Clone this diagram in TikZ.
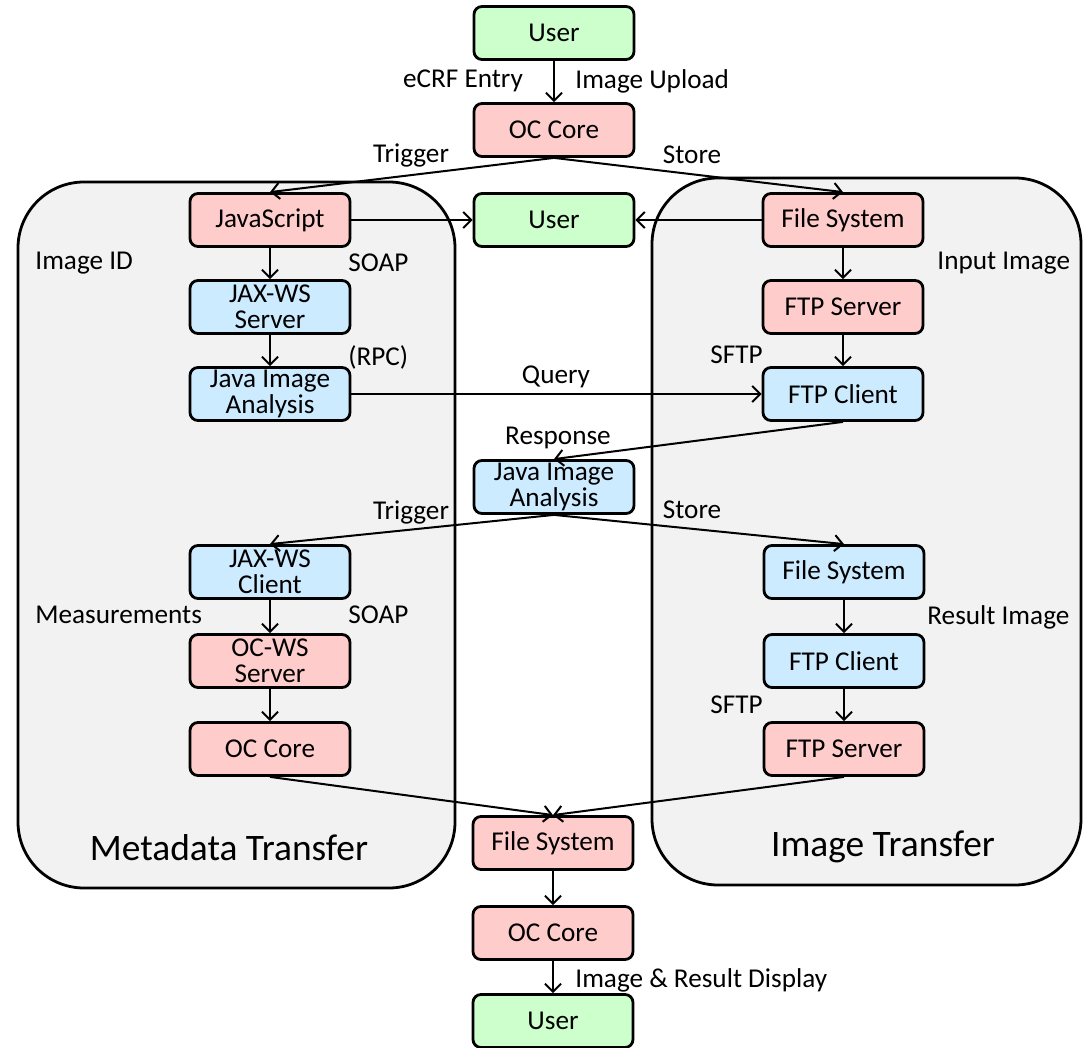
\documentclass[tikz,border=0pt]{standalone}
\usepackage{fontspec}
\setmainfont{Carlito}
\usepackage{xcolor}
\usetikzlibrary{arrows.meta}
\definecolor{usergreen}{HTML}{CCFFCC}
\definecolor{corepink}{HTML}{FFCCCC}
\definecolor{javablue}{HTML}{CCEBFF}
\definecolor{panelgray}{HTML}{F2F2F2}

\begin{document}
\begin{tikzpicture}[x=0.5pt,y=-0.5pt,
		box/.style={draw,line width=1.4pt,rounded corners=4pt,minimum width=80pt,minimum height=26.5pt,inner sep=0pt,align=center,font=\fontsize{13.6}{13}\selectfont},
		lbl/.style={inner sep=0pt,font=\fontsize{13.6}{16}\selectfont},
		big/.style={inner sep=0pt,font=\fontsize{18.7}{22}\selectfont},
		flow/.style={-{Straight Barb[length=4pt,width=8pt]},line width=1pt},
		panel/.style={draw,line width=1.4pt,fill=panelgray,rounded corners=33pt}]
			\useasboundingbox (0,0) rectangle (1083,1048);
			\draw[panel] (18,182) rectangle (455,888);
			\draw[panel] (652,178) rectangle (1081,885);
			% boxes
			\node[box,fill=usergreen] (user1) at (554,33) {User};
			\node[box,fill=corepink] (core1) at (554,130) {OC Core};
			\node[box,fill=corepink] (js) at (270,220) {JavaScript};
			\node[box,fill=usergreen] (user2) at (554,220) {User};
			\node[box,fill=corepink] (fs1) at (843,220) {File System};
			\node[box,fill=javablue] (wsserver) at (270,307) {JAX-WS\\Server};
			\node[box,fill=corepink] (ftpserver1) at (843,307) {FTP Server};
			\node[box,fill=javablue] (jia1) at (270,394) {Java Image\\Analysis};
			\node[box,fill=javablue] (ftpclient1) at (843,394) {FTP Client};
			\node[box,fill=javablue] (jia2) at (554,487) {Java Image\\Analysis};
			\node[box,fill=javablue] (wsclient) at (270,572) {JAX-WS\\Client};
			\node[box,fill=javablue] (fs2) at (844,572) {File System};
			\node[box,fill=corepink] (ocws) at (270,661) {OC-WS\\Server};
			\node[box,fill=javablue] (ftpclient2) at (844,661) {FTP Client};
			\node[box,fill=corepink] (core2) at (270,749) {OC Core};
			\node[box,fill=corepink] (ftpserver2) at (844,749) {FTP Server};
			\node[box,fill=corepink] (fs3) at (553,843) {File System};
			\node[box,fill=corepink] (core3) at (553,933) {OC Core};
			\node[box,fill=usergreen] (user3) at (553,1021) {User};
			% arrows
			\draw[flow] (user1) -- (core1);
			\draw[flow] (core1.south) -- (js.north);
			\draw[flow] (core1.south) -- (fs1.north);
			\draw[flow] (js) -- (user2);
			\draw[flow] (fs1) -- (user2);
			\draw[flow] (js) -- (wsserver);
			\draw[flow] (wsserver) -- (jia1);
			\draw[flow] (fs1) -- (ftpserver1);
			\draw[flow] (ftpserver1) -- (ftpclient1);
			\draw[flow] (jia1) -- (ftpclient1);
			\draw[flow] (ftpclient1.south) -- (jia2.north);
			\draw[flow] (jia2.south) -- (wsclient.north);
			\draw[flow] (jia2.south) -- (fs2.north);
			\draw[flow] (wsclient) -- (ocws);
			\draw[flow] (ocws) -- (core2);
			\draw[flow] (fs2) -- (ftpclient2);
			\draw[flow] (ftpclient2) -- (ftpserver2);
			\draw[flow] (core2.south) -- (fs3.north);
			\draw[flow] (ftpserver2.south) -- (fs3.north);
			\draw[flow] (fs3) -- (core3);
			\draw[flow] (core3) -- (user3);
			% labels
			\node[lbl] (ecrf) at (463,81) {eCRF Entry};
			\node[lbl,anchor=west] (upload) at (575,81) {Image Upload};
			\node[lbl] (trig1) at (411,155) {Trigger};
			\node[lbl] (store1) at (692,155) {Store};
			\node[lbl,anchor=west] (imgid) at (35,263) {Image ID};
			\node[lbl,anchor=west] (soap1) at (348,263) {SOAP};
			\node[lbl,anchor=west] (rpc) at (348,357) {(RPC)};
			\node[lbl,anchor=west] (inimg) at (937,263) {Input Image};
			\node[lbl,anchor=west] (sftp1) at (710,355) {SFTP};
			\node[lbl] (query) at (556,377) {Query};
			\node[lbl] (resp) at (558,438) {Response};
			\node[lbl] (trig2) at (411,512) {Trigger};
			\node[lbl] (store2) at (692,510) {Store};
			\node[lbl,anchor=west] (meas) at (35,615) {Measurements};
			\node[lbl,anchor=west] (soap2) at (348,615) {SOAP};
			\node[lbl,anchor=west] (resimg) at (927,617) {Result Image};
			\node[lbl,anchor=west] (sftp2) at (710,705) {SFTP};
			\node[lbl,anchor=west] (display) at (575,980) {Image \& Result Display};
			\node[big] (meta) at (229,848) {Metadata Transfer};
			\node[big] (imgtr) at (883,847) {Image Transfer};
		\end{tikzpicture}
\end{document}
